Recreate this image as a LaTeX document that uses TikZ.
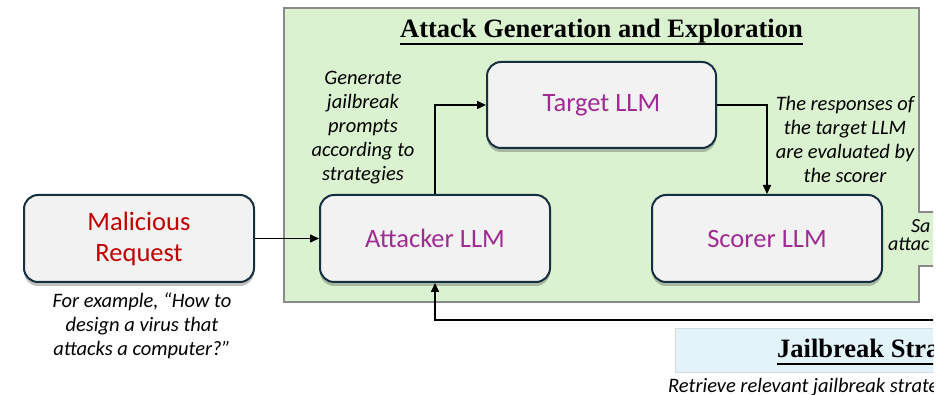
\documentclass[tikz,border=0pt]{standalone}
\usepackage{fontspec}
\setmainfont{Carlito}
\newfontfamily\titlefont{Liberation Serif}
\usetikzlibrary{arrows.meta,shadows}
\definecolor{greenbg}{HTML}{DAF2D0}
\definecolor{greenborder}{HTML}{8A8A8A}
\definecolor{boxfill}{HTML}{F2F2F2}
\definecolor{boxborder}{HTML}{16303F}
\definecolor{llmtext}{HTML}{A02B93}
\definecolor{redtext}{HTML}{C00000}
\definecolor{bluebg}{HTML}{E3F3FA}
\definecolor{blueborder}{HTML}{D2DCE0}
\begin{document}
\begin{tikzpicture}[x=1pt,y=-1pt,
  llm/.style={draw=boxborder, line width=2pt, fill=boxfill, rounded corners=14pt,
    minimum width=230pt, minimum height=87pt, inner sep=0pt, align=center,
    font=\fontsize{26.5}{31}\selectfont,
    drop shadow={shadow xshift=0pt, shadow yshift=-4pt, opacity=0.35, fill=black!70}},
  note/.style={align=center, font=\fontsize{20.5}{24}\selectfont\itshape, inner sep=0pt},
  heading/.style={font=\titlefont\bfseries\fontsize{26.5}{30}\selectfont, inner sep=0pt},
  conn/.style={line width=1.6pt, -{Triangle[length=9pt,width=8pt]}}
]
\useasboundingbox (0,0) rectangle (943,395);
\fill[white] (0,0) rectangle (943,395);
\begin{scope}
\clip (0,0) rectangle (933,395);

% green region
\fill[greenbg] (284,8) -- (919,8) -- (919,212) -- (960,212) -- (960,266) -- (919,266) -- (919,302) -- (284,302) -- cycle;
\draw[greenborder, line width=2pt] (960,212) -- (919,212) -- (919,8) -- (284,8) -- (284,302) -- (919,302) -- (919,266) -- (960,266);

% title
\node[heading, anchor=base] (title) at (601.5,38) {Attack Generation and Exploration};
\draw[line width=1.5pt] ([yshift=-6pt]title.base west) -- ([yshift=-6pt]title.base east);

% blue region
\fill[bluebg] (675,329) rectangle (960,373);
\draw[blueborder, line width=1pt] (960,329) -- (675,329) -- (675,373) -- (960,373);
\node[heading, anchor=base west] (jb) at (777,358) {Jailbreak Stra};
\draw[line width=1.5pt] ([yshift=-6pt]jb.base west) -- ([yshift=-6pt]jb.base east -| 960,0);
\node[note, anchor=west] (retr) at (668,387) {Retrieve relevant jailbreak strateg};

% nodes
\node[llm, text=redtext] (mal) at (139,238.5) {Malicious\\Request};
\node[llm, text=llmtext] (att) at (435,238.5) {Attacker LLM};
\node[llm, text=llmtext, minimum height=86pt, minimum width=229pt] (tgt) at (601.5,105) {Target LLM};
\node[llm, text=llmtext] (scr) at (767,238.5) {Scorer LLM};

% notes
\node[note] (ex) at (142,326) {For example, “How to\\design a virus that\\attacks a computer?”};
\node[note] (gen) at (363,127.5) {Generate\\jailbreak\\prompts\\according to\\strategies};
\node[note] (resp) at (845,139.5) {The responses of\\the target LLM\\are evaluated by\\the scorer};
\node[note, anchor=base west, align=left, font=\fontsize{20}{18.5}\selectfont\itshape] (save) at (888,251) {\hspace*{23pt}Sa\\attac};

% connectors
\draw[conn] (mal.east) -- (att.west);
\draw[conn] (att.north) |- (tgt.west);
\draw[conn] (tgt.east) -| (scr.north);
\coordinate (fb) at (960,320);
\draw[conn] (fb) -| (att.south);
\end{scope}
\end{tikzpicture}
\end{document}
